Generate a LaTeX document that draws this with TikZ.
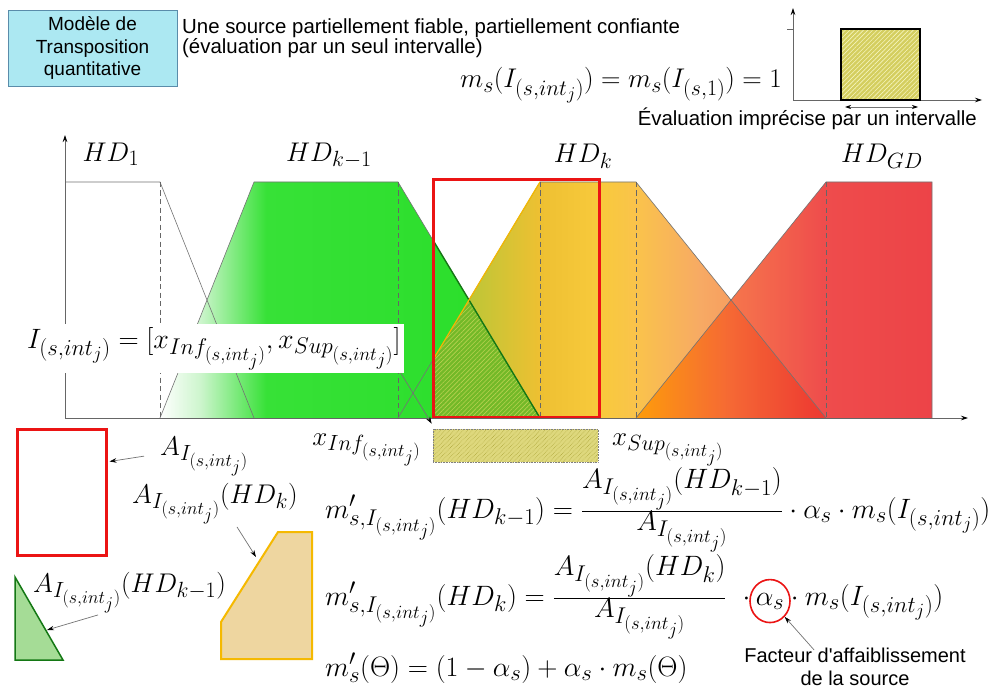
\RequirePackage{fix-cm}
\documentclass[tikz,border=0pt]{standalone}
\usepackage[no-math]{fontspec}
\newfontfamily\sansf{Liberation Sans}
\usetikzlibrary{arrows.meta,calc,patterns.meta,shapes.geometric}
\DeclareMathSizes{27}{27}{22}{18}
\DeclareMathSizes{28}{28}{22.8}{18.7}
\newcommand{\myfrac}[2]{{\textstyle\frac{\displaystyle #1}{\displaystyle #2}}}

\definecolor{boxfill}{RGB}{172,232,242}
\definecolor{boxborder}{RGB}{90,140,170}
\definecolor{redc}{RGB}{235,20,20}
\definecolor{darkgreen}{RGB}{20,120,20}
\definecolor{goldline}{RGB}{245,185,0}
\definecolor{legg}{RGB}{165,220,150}
\definecolor{legy}{RGB}{238,214,160}
\definecolor{sqfill}{RGB}{212,206,95}
\definecolor{sqline}{RGB}{245,245,190}
\definecolor{barfill}{RGB}{222,216,125}
\definecolor{barline}{RGB}{175,168,60}
\definecolor{hatchfill}{RGB}{115,185,40}
\definecolor{hatchline}{RGB}{185,210,80}
% HD_{k-1}
\definecolor{gA}{RGB}{205,245,205}
\definecolor{gB}{RGB}{55,225,55}
\definecolor{gC}{RGB}{40,222,40}
% HD_k
\definecolor{kA}{RGB}{140,205,60}
\definecolor{kB}{RGB}{238,192,50}
\definecolor{kC}{RGB}{248,202,60}
\definecolor{kD}{RGB}{250,195,75}
\definecolor{kE}{RGB}{247,170,100}
\definecolor{kF}{RGB}{245,120,80}
% HD_GD
\definecolor{rA}{RGB}{255,150,0}
\definecolor{rB}{RGB}{245,95,45}
\definecolor{rC}{RGB}{236,45,45}
\definecolor{rD}{RGB}{235,35,40}

\pgfdeclarehorizontalshading{hdkmone}{100bp}{color(0bp)=(white); color(25bp)=(white); color(30.3bp)=(gA); color(39bp)=(gB); color(75bp)=(gC); color(100bp)=(gC)}
\pgfdeclarehorizontalshading{hdkshade}{100bp}{color(0bp)=(kA); color(25bp)=(kA); color(41.6bp)=(kB); color(48.6bp)=(kC); color(52.8bp)=(kD); color(60.3bp)=(kE); color(75bp)=(kF); color(100bp)=(kF)}
\pgfdeclarehorizontalshading{hdgdshade}{100bp}{color(0bp)=(rA); color(25bp)=(rA); color(40.9bp)=(rB); color(57.1bp)=(rC); color(75bp)=(rD); color(100bp)=(rD)}

\begin{document}
\begin{tikzpicture}[x=1pt,y=-1pt,
  mth/.style={inner sep=0pt, font=\fontsize{27}{32}\selectfont},
  mthL/.style={inner sep=0pt, font=\fontsize{28}{33}\selectfont},
  sanstext/.style={inner sep=0pt, font=\sansf\fontsize{20.4}{20}\selectfont},
  outl/.style={draw=black!55, line width=0.6pt},
  dsh/.style={draw=black!60, line width=0.6pt, dash pattern=on 5pt off 3.5pt},
  arr/.style={draw=black!55, line width=0.7pt, -{Stealth[length=7pt,width=4.5pt,color=black]}},
  axisline/.style={draw=black!60, line width=0.7pt, -{Stealth[length=7pt,width=4.5pt,color=black]}},
  hatch/.style={pattern={Lines[angle=45,distance=3.2pt,line width=0.6pt]}, pattern color=#1},
]
\useasboundingbox (0,0) rectangle (991,690);
\fill[white] (0,0) rectangle (991,690);

% ---------- top part ----------
\node[draw=boxborder, fill=boxfill, line width=0.8pt, minimum width=169pt, minimum height=76pt,
      inner sep=0pt, align=center, font=\sansf\fontsize{19}{22.5}\selectfont] (model) at (92.5,48)
      {Modèle de\\Transposition\\quantitative};
\node[sanstext, anchor=north west, align=left] (intro) at (182,18.5)
      {Une source partiellement fiable, partiellement confiante\\(évaluation par un seul intervalle)};
\node[mth, anchor=base east] (mseq) at (782,88) {$m_s(I_{(s,int_j)}) = m_s(I_{(s,1)}) = 1$};

% small chart
\coordinate (so) at (793,100);
\coordinate (sytop) at (793,8);
\coordinate (sxend) at (982,100);
\coordinate (stick) at (787,29);
\coordinate (stickb) at (793,29);
\draw[axisline] (so) -- (sytop);
\draw[axisline] (so) -- (sxend);
\draw[draw=black!60, line width=0.6pt] (stick) -- (stickb);
\node[draw=black, line width=1.2pt, preaction={fill=sqfill}, hatch=sqline,
      minimum width=79pt, minimum height=71pt, inner sep=0pt] (square) at (880.5,64.5) {};
\coordinate (dl) at (845,107);
\coordinate (dr) at (918,107);
\draw[draw=black!55, line width=0.7pt, {Stealth[length=6pt,width=4pt,color=black]}-{Stealth[length=6pt,width=4pt,color=black]}] (dl) -- (dr);
\node[sanstext, anchor=base east] (evalimp) at (977,126) {Évaluation imprécise par un intervalle};

% ---------- main chart ----------
\shade[shading=hdkshade] (398,418) -- (540,182) -- (636,182) -- (826,418) -- cycle;
\shade[shading=hdgdshade, fill opacity=0.85] (636,418) -- (826,182) -- (932,182) -- (932,418) -- cycle;
\shade[shading=hdkmone] (160,418) -- (254,182) -- (398,182) -- (540,418) -- cycle;
\path[preaction={fill=hatchfill}, hatch=hatchline] (433,359.8) -- (469,300) -- (540,418) -- (433,418) -- cycle;

\draw[outl] (65,182) -- (160,182) -- (254,418);
\draw[outl] (160,418) -- (254,182) -- (398,182) -- (540,418);
\draw[outl] (398,418) -- (540,182) -- (636,182) -- (826,418);
\draw[outl] (636,418) -- (826,182) -- (932,182) -- (932,418);
\draw[draw=darkgreen, line width=1.4pt] (433,240.2) -- (540,418);
\draw[draw=goldline, line width=1.2pt] (433,359.8) -- (540,182);
\foreach \xx in {160,398,540,636,826} { \draw[dsh] (\xx,182) -- (\xx,418); }

\node[draw=redc, line width=3pt, minimum width=166pt, minimum height=237pt, inner sep=0pt] (redbox) at (516,298.5) {};

\coordinate (O) at (65,418);
\coordinate (ytop) at (65,135);
\coordinate (xend) at (968,418);
\draw[axisline] (O) -- (ytop);
\draw[axisline] (O) -- (xend);

\node[mth, anchor=base] (hd1) at (111,161) {$HD_1$};
\node[mth, anchor=base] (hdkm) at (329,161) {$HD_{k-1}$};
\node[mth, anchor=base] (hdk) at (583,163) {$HD_k$};
\node[mth, anchor=base] (hdgd) at (882,163) {$HD_{GD}$};

\node[mthL, fill=white, inner xsep=3pt, inner ysep=3pt, anchor=base west] (ilabel) at (24,348)
      {$I_{(s,int_j)} = [x_{Inf_{(s,int_j)}}, x_{Sup_{(s,int_j)}}]$};

% interval bar
\node[draw=black!50, densely dotted, line width=0.6pt, preaction={fill=barfill}, hatch=barline,
      minimum width=165pt, minimum height=33pt, inner sep=0pt] (bar) at (515.5,445.5) {};
\node[mth, anchor=base east] (xinf) at (421,445) {$x_{Inf_{(s,int_j)}}$};
\node[mth, anchor=base west] (xsup) at (612,445) {$x_{Sup_{(s,int_j)}}$};
\draw[arr] ([xshift=-3pt]ilabel.south east) -- ([xshift=-1pt,yshift=5pt]bar.north west);

% ---------- legends ----------
\node[draw=redc, line width=3pt, minimum width=89pt, minimum height=126pt, inner sep=0pt] (redrect) at (61.5,492) {};
\node[mth, anchor=base west] (alab) at (160,455) {$A_{I_{(s,int_j)}}$};
\draw[arr] ($(alab.west)+(-16,0)$) -- ($(redrect.north east)+(2,34)$);

\path[fill=legg, draw=darkgreen, line width=1.5pt] (15,577) -- (15,660) -- (63,660) -- cycle;
\coordinate (gtip) at (47,630);
\node[mth, anchor=base west] (alabm) at (33,592) {$A_{I_{(s,int_j)}}(HD_{k-1})$};
\draw[arr] ($(alabm.south west)+(65,2)$) -- (gtip);

\path[fill=legy, draw=goldline, line width=2pt] (221,659) -- (221,622) -- (278,532) -- (312,532) -- (312,659) -- cycle;
\coordinate (ytip) at (256,557);
\node[mth, anchor=base west] (alabk) at (132,503) {$A_{I_{(s,int_j)}}(HD_k)$};
\draw[arr] ($(alabk.south west)+(105,3)$) -- (ytip);

% ---------- equations ----------
\node[mthL, anchor=base west] (eqa) at (325,518)
  {$m'_{s,I_{(s,int_j)}}(HD_{k-1}) = \myfrac{A_{I_{(s,int_j)}}(HD_{k-1})}{A_{I_{(s,int_j)}}}\cdot\alpha_s\cdot m_s(I_{(s,int_j)})$};
\node[mthL, anchor=base west] (eqb) at (325,605)
  {$m'_{s,I_{(s,int_j)}}(HD_k) = \myfrac{A_{I_{(s,int_j)}}(HD_k)}{A_{I_{(s,int_j)}}}$};
\node[mthL, anchor=base] (alpha) at (770,605) {$\alpha_s$};
\node[mthL, anchor=base] (dotl) at ($(alpha.base west)+(-9,0)$) {$\cdot$};
\node[draw=redc, line width=1.6pt, ellipse, minimum width=40pt, minimum height=43pt, inner sep=0pt] (alphac) at (alpha.center) {};
\node[mthL, anchor=base west] (eqbr) at (alpha.base east) {${}\cdot m_s(I_{(s,int_j)})$};
\node[mthL, anchor=base west] (eqc) at (325,676) {$m'_s(\Theta) = (1-\alpha_s) + \alpha_s\cdot m_s(\Theta)$};

\node[anchor=north, inner sep=0pt, align=center, font=\sansf\fontsize{20}{23}\selectfont] (facteur) at (855,648)
  {Facteur d'affaiblissement\\de la source};
\draw[arr] ($(facteur.north west)+(70,2)$) -- (alphac.south east);
\end{tikzpicture}
\end{document}
